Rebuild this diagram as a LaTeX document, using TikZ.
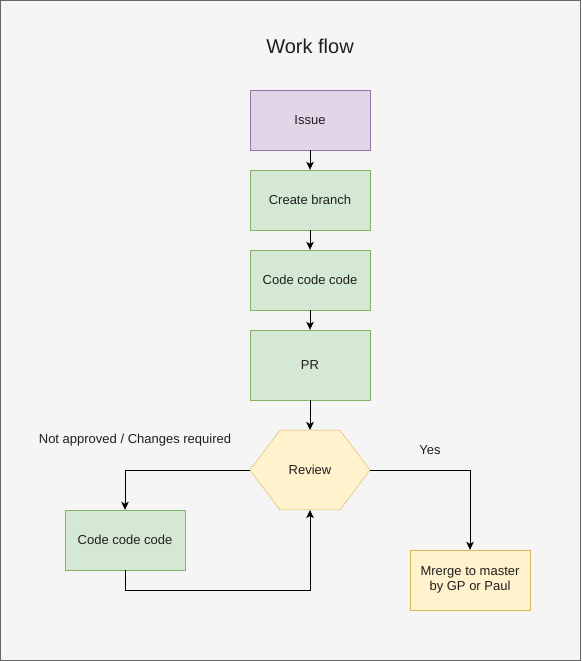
\documentclass[tikz,border=0pt]{standalone}
\usepackage{fontspec}
\setmainfont{Liberation Sans}
\usepackage{tikz}
\usetikzlibrary{arrows.meta,shapes.geometric}
\definecolor{bgfill}{HTML}{F5F5F5}
\definecolor{bgdraw}{HTML}{666666}
\definecolor{purplefill}{HTML}{E1D5E7}
\definecolor{purpledraw}{HTML}{9673A6}
\definecolor{greenfill}{HTML}{D5E8D4}
\definecolor{greendraw}{HTML}{82B366}
\definecolor{yellowfill}{HTML}{FFF2CC}
\definecolor{yellowdraw}{HTML}{D6B656}

\begin{document}
\begin{tikzpicture}[
  x=1pt, y=-1pt,
  every node/.style={font=\fontsize{13}{15}\selectfont, text=black!88},
  box/.style={draw, align=center, minimum width=120pt, minimum height=60pt, inner sep=0pt},
  issuebox/.style={box, fill=purplefill, draw=purpledraw},
  stepbox/.style={box, fill=greenfill, draw=greendraw},
  mergebox/.style={box, fill=yellowfill, draw=yellowdraw},
  reviewhex/.style={regular polygon, regular polygon sides=6,
    fill=yellowfill, draw=yellowdraw, minimum size=92pt, inner sep=0pt,
    xscale=1.305},
  flow/.style={-{Stealth[length=8pt, width=7.5pt, inset=2pt]}, line width=0.8pt},
  edgelabel/.style={font=\fontsize{13}{15}\selectfont, align=center}
]

% background
\useasboundingbox (0,0) rectangle (581,661);
\draw[fill=bgfill, draw=bgdraw] (0.5,0.5) rectangle (580.5,660.5);

\node[font=\fontsize{20}{24}\selectfont] (title) at (310,46) {Work flow};

\node[issuebox] (issue) at (310,120) {Issue};
\node[stepbox] (branch) at (310,200) {Create branch};
\node[stepbox] (code) at (310,280) {Code code code};
\node[stepbox, minimum height=70pt] (pr) at (310,365) {PR};
\node[reviewhex] (review) at (310,470) {};
\node (reviewtext) at (review.center) {Review};
\node[stepbox] (fix) at (125,540) {Code code code};
\node[mergebox] (merge) at (470,580) {Mrerge to master\\by GP or Paul};

\node[edgelabel] (notok) at (135,440) {Not approved / Changes required};
\node[edgelabel] (yes) at (430,450) {Yes};

\coordinate (loop) at (310,590);

\draw[flow] (issue) -- (branch);
\draw[flow] (branch) -- (code);
\draw[flow] (code) -- (pr);
\draw[flow] (pr.south) -- (review.north);
\draw[flow] (review.west) -| (fix.north);
\draw[flow] (fix.south) |- (loop) -- (review.south);
\draw[flow] (review.east) -| (merge.north);

\end{tikzpicture}
\end{document}
